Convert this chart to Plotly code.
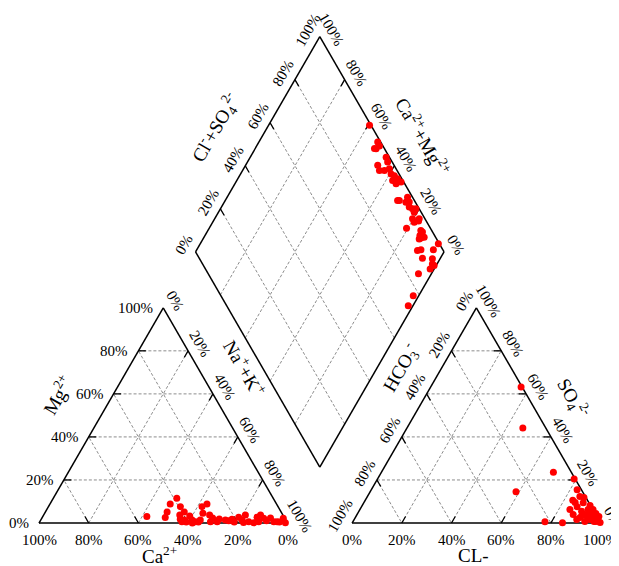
import math
import plotly.graph_objects as go

# ---------------- data (percent) ----------------
# Left (cation) triangle
cat_ca = [55.1, 47.9, 45.9, 42.8, 38.8, 39.3, 41.5, 42.3, 42.2, 40.8, 37.7, 37.7, 36.8, 35.6,
          34.4, 30.6, 28.0, 31.8, 29.5, 30.7, 28.0, 24.3, 23.1, 21.5, 21.2, 18.3, 17.6, 15.1,
          15.3, 13.5, 10.9, 11.3, 9.0, 8.5, 7.9, 5.2, 3.9, 0.6, 0.8, 40.5, 38.3, 26.5, 17.6,
          5.7, 3.0, 39.0, 29.0]
cat_mg = [3.0, 2.6, 5.1, 8.8, 11.5, 7.6, 3.7, 1.7, 0.6, 1.4, 3.3, 1.4, 0.6, 0.5,
          1.4, 7.6, 8.8, 4.5, 3.7, 0.6, 0.6, 1.4, 1.1, 1.7, 0.5, 2.7, 1.4, 3.7,
          0.6, 0.1, 2.7, 0.6, 3.7, 2.2, 1.1, 0.6, 0.6, 2.2, 0.1, 0.5, 0.0, 1.9, 0.2,
          2.3, 0.5, 5.1, 2.3]
# Right (anion) triangle
an_cl = [36.4, 46.6, 69.2, 58.7, 77.3, 84.6, 79.1, 82.8, 83.5, 85.0, 88.3, 86.8, 89.6, 87.0,
         92.4, 89.6, 94.9, 84.5, 90.4, 91.8, 94.3, 96.4, 98.3, 93.3, 91.7, 93.8, 95.9, 97.8,
         99.7, 97.0, 90.8, 93.6, 87.4, 85.5, 97.5, 96.2, 97.8, 94.6]
an_so4 = [63.2, 44.2, 23.6, 14.5, 0.6, 0.1, 20.5, 15.5, 10.6, 9.5, 9.4, 7.5, 5.5, 3.9,
          3.9, 1.6, 1.6, 6.3, 2.6, 6.3, 4.4, 2.6, 1.2, 0.7, 8.1, 6.3, 4.4, 3.0,
          0.2, 0.7, 3.5, 2.6, 11.8, 12.3, 2.1, 1.6, 0.7, 3.0]
# Diamond
dia_clso4 = [99.4, 98.8, 96.6, 98.6, 98.7, 98.2, 93.4, 92.9, 94.9, 97.3, 96.8, 97.7, 95.9, 98.3,
             96.5, 98.9, 93.2, 98.0, 97.6, 96.4, 97.3, 97.2, 98.7, 96.2, 93.9, 95.0, 94.9, 96.9,
             90.4, 95.6, 95.9, 94.1, 93.9, 95.4, 99.6, 89.6, 91.2, 96.2, 89.8, 92.5, 90.4, 84.6,
             77.4, 73.1, 96.0, 93.7, 92.8, 97.7, 93.0]
dia_camg = [59.4, 52.2, 51.3, 50.6, 45.3, 43.6, 46.8, 44.9, 42.9, 41.3, 39.4, 37.7, 37.3, 35.7,
            35.1, 33.5, 30.6, 27.4, 25.6, 24.4, 22.7, 21.2, 21.3, 26.9, 29.9, 20.4, 18.9, 17.4,
            20.6, 14.3, 13.3, 13.5, 12.5, 11.4, 4.2, 11.0, 9.8, 4.8, 7.2, 1.9, 1.6, 5.2,
            2.2, 1.9, 52.0, 3.1, 0.8, 17.7, 13.0]

ticks = [0, 20, 40, 60, 80, 100]
tick_labels = [f"{t}%" for t in ticks]

# ---------------- geometry ----------------
PAD = 8                      # default page body margin
S = 248.5                    # pixels per unit side
OX, OY = 39.0 - PAD, 523.0 - PAD
W, H = 619 - PAD, 566 - PAD
h = math.sqrt(3) / 2
g = 0.26
X0 = 1 + g
B = (1 + g / 2, g * h)

def tl(ca, mg):
    return 1 - ca / 100 - 0.5 * mg / 100, mg / 100 * h

def tr(cl, so4):
    return X0 + cl / 100 + 0.5 * so4 / 100, so4 / 100 * h

def dm(a, c):
    return B[0] + 0.5 * a / 100 - 0.5 * c / 100, B[1] + (a + c) / 100 * h

def px(x, y):
    # page pixel -> data units
    return (x - PAD - OX) / S, (OY - (y - PAD)) / S

shapes = []
def seg(p, q, color="black", width=1.5, dash=None):
    ln = dict(color=color, width=width)
    if dash:
        ln["dash"] = dash
    shapes.append(dict(type="line", xref="x", yref="y", x0=p[0], y0=p[1], x1=q[0], y1=q[1],
                       line=ln, layer="below"))

GRID = dict(color="#6e6e6e", width=0.8, dash="3px,2px")
def grid(p, q):
    seg(p, q, **GRID)

TL = 0.03
def tick(p, q):
    dx, dy = q[0] - p[0], q[1] - p[1]
    n = math.hypot(dx, dy)
    seg(p, (p[0] + dx / n * TL, p[1] + dy / n * TL), width=1.3)

for t in [20, 40, 60, 80]:
    # left triangle
    grid(tl(100 - t, t), tl(0, t))          # Mg const
    grid(tl(t, 0), tl(t, 100 - t))          # Ca const
    grid(tl(100 - t, 0), tl(0, 100 - t))    # Na+K const
    tick(tl(100 - t, t), tl(0, t))
    tick(tl(t, 0), tl(t, 100 - t))
    tick(tl(0, 100 - t), tl(100 - t, 0))
    # right triangle
    grid(tr(0, t), tr(100 - t, t))          # SO4 const
    grid(tr(t, 0), tr(t, 100 - t))          # Cl const
    grid(tr(0, 100 - t), tr(100 - t, 0))    # HCO3 const
    tick(tr(100 - t, t), tr(0, t))
    tick(tr(t, 0), tr(t, 100 - t))
    tick(tr(0, 100 - t), tr(100 - t, 0))
    # diamond
    grid(dm(t, 0), dm(t, 100))
    grid(dm(0, t), dm(100, t))
    tick(dm(t, 100), dm(t, 0))
    tick(dm(100, t), dm(0, t))

# outlines
for a, b in [((0, 0), (1, 0)), ((1, 0), (0.5, h)), ((0.5, h), (0, 0))]:
    seg(a, b)
for a, b in [((X0, 0), (X0 + 1, 0)), ((X0 + 1, 0), (X0 + 0.5, h)), ((X0 + 0.5, h), (X0, 0))]:
    seg(a, b)
cs = [dm(0, 0), dm(100, 0), dm(100, 100), dm(0, 100), dm(0, 0)]
for i in range(4):
    seg(cs[i], cs[i + 1])

# ---------------- annotations ----------------
FONT = "Liberation Serif, Times New Roman, serif"
ann = []
def text(x, y, s, size=15, angle=0, xanchor="center"):
    ann.append(dict(x=x, y=y, xref="x", yref="y", text=s, showarrow=False, textangle=angle,
                    xanchor=xanchor, yanchor="middle",
                    font=dict(family=FONT, size=size, color="black")))

OFF = 0.056
nR = (0.866 * OFF, 0.5 * OFF)
nL = (-0.866 * OFF, 0.5 * OFF)
for t, lab in zip(ticks, tick_labels):
    x, y = tl(t, 0); text(x, y - 0.068, lab)                           # Ca
    x, y = tl(100 - t, t); text(x - 0.032, y, lab, xanchor="right")     # Mg
    x, y = tl(0, 100 - t); text(x + nR[0], y + nR[1], lab, angle=60)    # Na+K
    x, y = tr(t, 0); text(x, y - 0.068, lab)                           # Cl
    x, y = tr(0, 100 - t); text(x + nL[0], y + nL[1], lab, angle=-60)   # HCO3
    x, y = tr(100 - t, t); text(x + nR[0], y + nR[1], lab, angle=60)    # SO4
    x, y = dm(t, 100); text(x + nL[0], y + nL[1], lab, angle=-60)       # Cl+SO4
    x, y = dm(100, t); text(x + nR[0], y + nR[1], lab, angle=60)        # Ca+Mg

TS = 19
text(*px(57, 395), "Mg<sup>2+</sup>", size=TS, angle=-60)
text(*px(159, 555), "Ca<sup>2+</sup>", size=TS)
text(*px(245, 368), "Na<sup>+</sup>+K<sup>+</sup>", size=TS, angle=60)
text(*px(400, 368), "HCO<sub>3</sub><sup>-</sup>", size=TS, angle=-60)
text(*px(573, 398), "SO<sub>4</sub><sup>2-</sup>", size=TS, angle=60)
text(*px(473, 555), "CL-", size=TS)
text(*px(215, 128), "Cl<sup>-</sup>+SO<sub>4</sub><sup>2-</sup>", size=TS, angle=-60)
text(*px(423, 136), "Ca<sup>2+</sup>+Mg<sup>2+</sup>", size=TS, angle=60)

# ---------------- points ----------------
lx, ly = zip(*[tl(c, m) for c, m in zip(cat_ca, cat_mg)])
rx, ry = zip(*[tr(c, s) for c, s in zip(an_cl, an_so4)])
qx, qy = zip(*[dm(a, c) for a, c in zip(dia_clso4, dia_camg)])
mk = dict(color="#ff0000", size=7, line=dict(width=0))
fig = go.Figure()
for xs, ys in [(lx, ly), (rx, ry), (qx, qy)]:
    fig.add_trace(go.Scatter(x=list(xs), y=list(ys), mode="markers", marker=mk,
                             cliponaxis=False, hoverinfo="skip"))

fig.update_layout(
    width=W, height=H, autosize=False,
    margin=dict(l=0, r=0, t=0, b=0, pad=0),
    paper_bgcolor="white", plot_bgcolor="white",
    showlegend=False,
    xaxis=dict(range=[-OX / S, (W - OX) / S], visible=False, fixedrange=True),
    yaxis=dict(range=[-(H - OY) / S, OY / S], visible=False, fixedrange=True),
    shapes=shapes, annotations=ann,
)
fig.write_html("out.html", config={"displayModeBar": False})
